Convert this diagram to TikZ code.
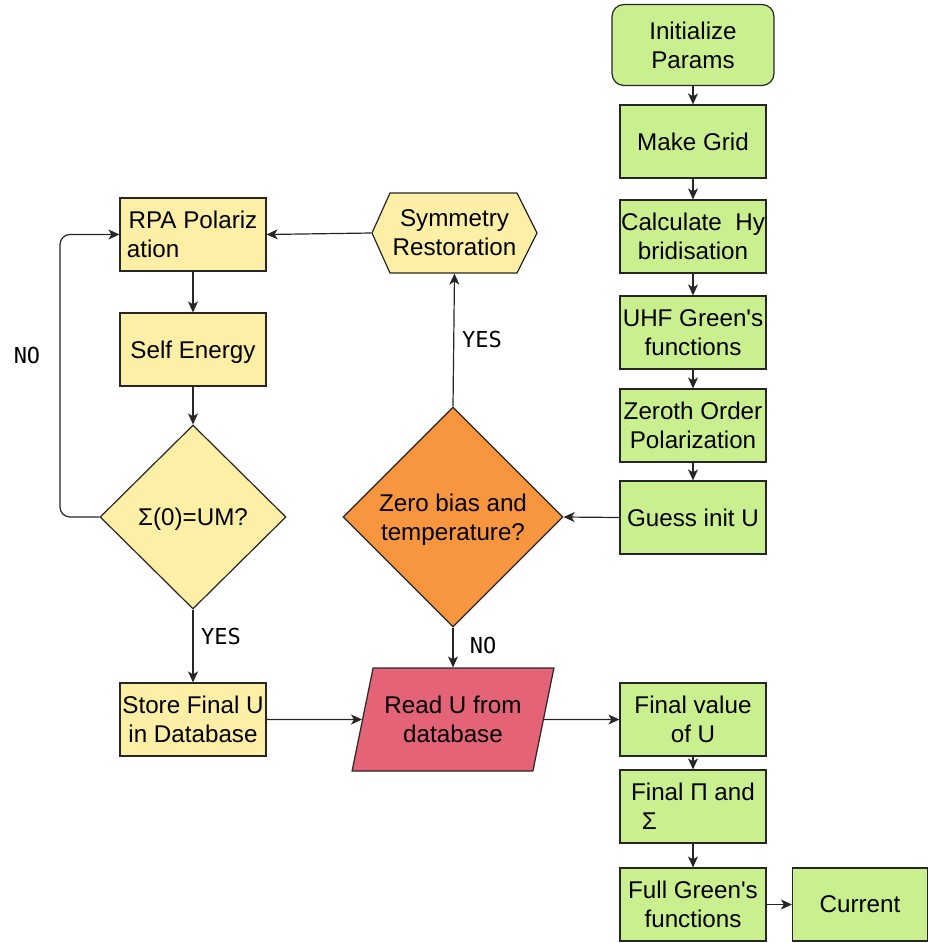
\documentclass[tikz,border=0pt]{standalone}
\usepackage{fontspec}
\setmainfont{Liberation Sans}[Ligatures=TeXOff]
\newfontfamily\lblfont{DejaVu Sans Mono}
\usetikzlibrary{shapes.geometric,arrows.meta}
\definecolor{gfill}{HTML}{C9EF8F}
\definecolor{yfill}{HTML}{FDEFA6}
\definecolor{ofill}{HTML}{F8963F}
\definecolor{pfill}{HTML}{E46377}
\definecolor{edgecol}{HTML}{262626}
\tikzset{
  base/.style={draw=edgecol, line width=1.2pt, inner sep=0pt, align=center,
    font=\fontsize{24.2pt}{29pt}\selectfont, text depth=-2pt},
  gbox/.style={base, fill=gfill, minimum width=146pt, minimum height=73pt},
  ybox/.style={base, fill=yfill, minimum width=146pt, minimum height=73pt},
  conn/.style={draw=edgecol, line width=1.2pt, -{Stealth[length=11pt,width=10pt,inset=3pt]}},
  plainline/.style={draw=edgecol, line width=1.2pt},
  lbl/.style={font=\lblfont\fontsize{22pt}{24pt}\selectfont, inner sep=0pt}
}
\begin{document}
\begin{tikzpicture}[x=1pt,y=-1pt]
\useasboundingbox (0,0) rectangle (928,943);
% right column
\node[gbox, rounded corners=12pt, minimum width=162pt, minimum height=81pt] (init) at (693,45) {Initialize\\Params};
\node[gbox] (grid) at (693,141.5) {Make Grid};
\node[gbox] (hyb) at (693,236.5) {Calculate\ \ Hy\\bridisation};
\node[gbox] (uhf) at (693,332.5) {UHF Green's\\functions};
\node[gbox] (zord) at (693,425.5) {Zeroth Order\\Polarization};
\node[gbox] (guess) at (693,517.5) {Guess init U};
\node[gbox] (finU) at (693,719.5) {Final value\\of U};
\node[gbox] (finPS) at (693,806.5) {Final Π and\\Σ\hspace*{3.6em}};
\node[gbox] (full) at (693,904.5) {Full Green's\\functions};
\node[gbox, minimum width=135pt] (cur) at (860,904.5) {Current};
% left column
\node[ybox] (rpa) at (193,234.5) {RPA Polariz\\ation\hspace*{3.3em}};
\node[ybox] (self) at (193,349.5) {Self Energy};
\node[base, fill=yfill, shape=diamond, minimum width=186pt, minimum height=184pt] (sig) at (193,517) {Σ(0)=UM?};
\node[ybox] (store) at (193,719.5) {Store Final U\\in Database};
% middle
\fill[yfill] (372,233) -- (390,193) -- (517,193) -- (537,233) -- (517,273) -- (390,273) -- cycle;
\draw[plainline, line join=miter] (372,233) -- (390,193) -- (517,193) -- (537,233) -- (517,273) -- (390,273) -- cycle;
\node[base, draw=none, minimum width=165pt, minimum height=80pt] (sym) at (454.5,233) {Symmetry\\Restoration};
\node[base, fill=ofill, shape=diamond, minimum width=220pt, minimum height=220pt] (zb) at (453,517) {Zero bias and\\temperature?};
\node[base, fill=pfill, shape=trapezium, trapezium left angle=68.8, trapezium right angle=111.2,
  trapezium stretches=true, minimum width=202pt, minimum height=103pt] (read) at (453,719.5) {Read U from\\database};
% connectors right column
\draw[conn] (init.south) -- (grid.north);
\draw[conn] (grid.south) -- (hyb.north);
\draw[conn] (hyb.south) -- (uhf.north);
\draw[conn] (uhf.south) -- (zord.north);
\draw[conn] (zord.south) -- (guess.north);
\draw[conn] (finU.south) -- (finPS.north);
\draw[conn] (finPS.south) -- (full.north);
\draw[conn] (full.east) -- (cur.west);
% left column
\draw[conn] (rpa.south) -- (self.north);
\draw[conn] (self.south) -- (sig.north);
\draw[conn, rounded corners=10pt] (sig.west) -- (60,517) -- (60,234.5) -- (rpa.west);
\draw[conn] (sig.south) -- (store.north);
% middle
\draw[conn] (sym.west) -- (rpa.east);
\draw[conn] (guess.west) -- (zb.east);
\draw[conn] (zb.north) -- (sym.south);
\draw[conn] (zb.south) -- (zb.south |- read.north);
\draw[conn] (store.east) -- (read.west);
\draw[conn] (read.east) -- (finU.west);
% labels
\node[lbl] (no1) at (27,355) {NO};
\node[lbl] (yes1) at (221,636) {YES};
\node[lbl] (yes2) at (482,339) {YES};
\node[lbl] (no2) at (483,645) {NO};
\end{tikzpicture}
\end{document}
